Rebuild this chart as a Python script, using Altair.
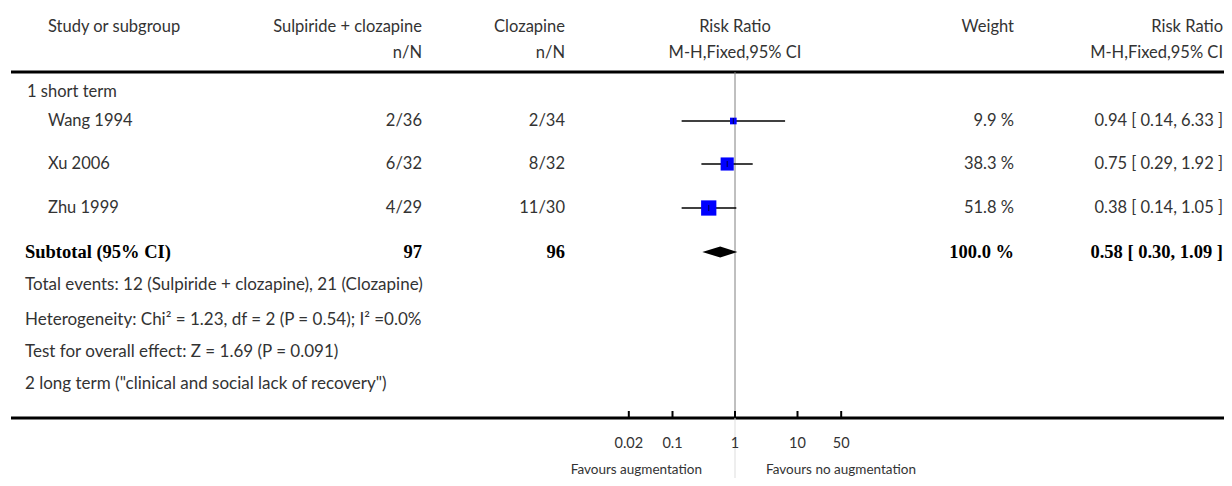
import altair as alt
import pandas as pd

# ---------------- data ----------------
studies = ["Wang 1994", "Xu 2006", "Zhu 1999"]
treat_events = ["2/36", "6/32", "4/29"]
ctrl_events = ["2/34", "8/32", "11/30"]
weights = [9.9, 38.3, 51.8]
rr = [0.94, 0.75, 0.38]
rr_lo = [0.14, 0.29, 0.14]
rr_hi = [6.33, 1.92, 1.05]

subgroup_labels = ["1 short term", "2 long term (\"clinical and social lack of recovery\")"]
subtotal_label = "Subtotal (95% CI)"
subtotal_treat = "97"
subtotal_ctrl = "96"
subtotal_weight = 100.0
subtotal_rr = 0.58
subtotal_lo = 0.30
subtotal_hi = 1.09

footnotes = [
    "Total events: 12 (Sulpiride + clozapine), 21 (Clozapine)",
    "Heterogeneity: Chi\u00b2 = 1.23, df = 2 (P = 0.54); I\u00b2 =0.0%",
    "Test for overall effect: Z = 1.69 (P = 0.091)",
]

header_study = "Study or subgroup"
header_treat = ["Sulpiride + clozapine", "n/N"]
header_ctrl = ["Clozapine", "n/N"]
header_plot = ["Risk Ratio", "M-H,Fixed,95% CI"]
header_weight = "Weight"
header_rr = ["Risk Ratio", "M-H,Fixed,95% CI"]

axis_ticks = [0.02, 0.1, 1, 10, 50]
axis_tick_labels = ["0.02", "0.1", "1", "10", "50"]
favours = ["Favours augmentation", "Favours no augmentation"]
null_value = 1

# ---------------- layout (pixels) ----------------
W, H = 1216, 470
COL = dict(study=40, subgroup=19, subtotal=17, treat=414, ctrl=557,
           plot=727, weight=1006, rr=1215, fav_l=694, fav_r=758, line_start=3)
ROW = dict(h1=19, h2=45, line_top=64, sub1=84, studies=[113, 156, 200],
           subtotal=244, foot=[277, 312, 344], sub2=376, line_bot=410,
           ticklab=436, favour=462, bottom=H)
PLOT_RANGE = [602, 852]
FONT = "Lato"
SERIF = "Liberation Serif"
TXT = "#333333"
FS = 16.5
FS_FOOT = 17

xpix = alt.Scale(domain=[0, W], range=[0, W], zero=False, nice=False)
ypix = alt.Scale(domain=[0, H], range=[0, H], zero=False, nice=False)
xlog = alt.Scale(type="log", domain=[0.01, 100], range=PLOT_RANGE, nice=False)


def fmt_ci(e, l, h):
    return f"{e:.2f} [ {l:.2f}, {h:.2f} ]"


def text_layer(rows, align, font=FONT, size=FS, weight="normal", color=TXT):
    df = pd.DataFrame(rows, columns=["x", "y", "t"])
    return alt.Chart(df).mark_text(
        align=align, baseline="middle", font=font, fontSize=size,
        fontWeight=weight, color=color
    ).encode(
        x=alt.X("x:Q", scale=xpix, axis=None),
        y=alt.Y("y:Q", scale=ypix, axis=None),
        text="t:N",
    )


# left aligned regular text
left_rows = [(COL["study"], ROW["h1"], header_study),
             (COL["subgroup"], ROW["sub1"], subgroup_labels[0])]
left_rows += [(COL["study"], y, s) for y, s in zip(ROW["studies"], studies)]
foot_rows = [(COL["subtotal"], y, s) for y, s in zip(ROW["foot"], footnotes)]
foot_rows += [(COL["subtotal"], ROW["sub2"], subgroup_labels[1])]

right_rows = [(COL["treat"], ROW["h1"], header_treat[0]), (COL["treat"], ROW["h2"], header_treat[1]),
              (COL["ctrl"], ROW["h1"], header_ctrl[0]), (COL["ctrl"], ROW["h2"], header_ctrl[1]),
              (COL["weight"], ROW["h1"], header_weight),
              (COL["rr"], ROW["h1"], header_rr[0]), (COL["rr"], ROW["h2"], header_rr[1])]
for y, a, b, w, e, l, h in zip(ROW["studies"], treat_events, ctrl_events, weights, rr, rr_lo, rr_hi):
    right_rows += [(COL["treat"], y, a), (COL["ctrl"], y, b),
                   (COL["weight"], y, f"{w:.1f} %"), (COL["rr"], y, fmt_ci(e, l, h))]

center_rows = [(COL["plot"], ROW["h1"], header_plot[0]), (COL["plot"], ROW["h2"], header_plot[1])]

bold_right = [(COL["treat"], ROW["subtotal"], subtotal_treat),
              (COL["ctrl"], ROW["subtotal"], subtotal_ctrl),
              (COL["weight"], ROW["subtotal"], f"{subtotal_weight:.1f} %"),
              (COL["rr"], ROW["subtotal"], fmt_ci(subtotal_rr, subtotal_lo, subtotal_hi))]
bold_left = [(COL["subtotal"], ROW["subtotal"], subtotal_label)]

fav_left = [(COL["fav_l"], ROW["favour"], favours[0])]
fav_right = [(COL["fav_r"], ROW["favour"], favours[1])]

# horizontal thick lines
hlines = pd.DataFrame({"x": [COL["line_start"]] * 2, "x2": [W] * 2,
                       "y": [ROW["line_top"], ROW["line_bot"]]})
hline_layer = alt.Chart(hlines).mark_rule(color="black", strokeWidth=3).encode(
    x=alt.X("x:Q", scale=xpix, axis=None), x2="x2:Q",
    y=alt.Y("y:Q", scale=ypix, axis=None))

# null line
null_df = pd.DataFrame({"v": [null_value], "y": [ROW["line_top"]], "y2": [ROW["line_bot"]]})
null_layer = alt.Chart(null_df).mark_rule(color="#808080", strokeWidth=1).encode(
    x=alt.X("v:Q", scale=xlog, axis=None),
    y=alt.Y("y:Q", scale=ypix, axis=None), y2="y2:Q")
null_df2 = pd.DataFrame({"v": [null_value], "y": [ROW["line_bot"]], "y2": [ROW["bottom"]]})
null_layer2 = alt.Chart(null_df2).mark_rule(color="#dddddd", strokeWidth=1).encode(
    x=alt.X("v:Q", scale=xlog, axis=None),
    y=alt.Y("y:Q", scale=ypix, axis=None), y2="y2:Q")

# studies
sdf = pd.DataFrame({"study": studies, "rr": rr, "lo": rr_lo, "hi": rr_hi,
                    "w": weights, "y": ROW["studies"]})
ci_layer = alt.Chart(sdf).mark_rule(color="black", strokeWidth=1.5).encode(
    x=alt.X("lo:Q", scale=xlog, axis=None), x2="hi:Q",
    y=alt.Y("y:Q", scale=ypix, axis=None))
box_layer = alt.Chart(sdf).mark_square(color="#0000ff", filled=True, opacity=1).encode(
    x=alt.X("rr:Q", scale=xlog, axis=None),
    y=alt.Y("y:Q", scale=ypix, axis=None),
    size=alt.Size("w:Q", scale=alt.Scale(domain=[0, 100], range=[0, 450], zero=True), legend=None))
est_layer = alt.Chart(sdf).mark_tick(color="black", orient="vertical", size=6, thickness=1).encode(
    x=alt.X("rr:Q", scale=xlog, axis=None),
    y=alt.Y("y:Q", scale=ypix, axis=None))

# diamond
half_h = 5.5
ddf = pd.DataFrame({"x": [subtotal_lo, subtotal_rr, subtotal_hi],
                    "y": [ROW["subtotal"], ROW["subtotal"] - half_h, ROW["subtotal"]],
                    "y2": [ROW["subtotal"], ROW["subtotal"] + half_h, ROW["subtotal"]]})
diamond_layer = alt.Chart(ddf).mark_area(color="black", orient="vertical", opacity=1).encode(
    x=alt.X("x:Q", scale=xlog, axis=None),
    y=alt.Y("y:Q", scale=ypix, axis=None), y2="y2:Q")

# axis ticks and labels
tdf = pd.DataFrame({"v": axis_ticks, "lab": axis_tick_labels,
                    "y": [ROW["line_bot"] - 7] * len(axis_ticks),
                    "y2": [ROW["line_bot"]] * len(axis_ticks),
                    "ly": [ROW["ticklab"]] * len(axis_ticks)})
tick_layer = alt.Chart(tdf).mark_rule(color="black", strokeWidth=2).encode(
    x=alt.X("v:Q", scale=xlog, axis=None),
    y=alt.Y("y:Q", scale=ypix, axis=None), y2="y2:Q")
ticklab_layer = alt.Chart(tdf).mark_text(font=FONT, fontSize=14.5, color=TXT, baseline="middle").encode(
    x=alt.X("v:Q", scale=xlog, axis=None),
    y=alt.Y("ly:Q", scale=ypix, axis=None),
    text="lab:N")

chart = alt.layer(
    hline_layer,
    null_layer, null_layer2,
    text_layer(left_rows, "left"),
    text_layer(foot_rows, "left", size=FS_FOOT),
    text_layer(right_rows, "right"),
    text_layer(center_rows, "center"),
    text_layer(fav_left, "right", size=13.5),
    text_layer(fav_right, "left", size=13.5),
    text_layer(bold_right, "right", font=SERIF, size=18.5, weight="bold", color="black"),
    text_layer(bold_left, "left", font=SERIF, size=18.5, weight="bold", color="black"),
    ci_layer, box_layer, est_layer, diamond_layer,
    tick_layer, ticklab_layer,
).resolve_scale(x="independent", y="shared", size="independent").properties(
    width=W, height=H, padding=0, autosize=alt.AutoSizeParams(type="none")
).configure_view(stroke=None)

chart.save("out.html", embed_options={"renderer": "svg", "actions": False})
